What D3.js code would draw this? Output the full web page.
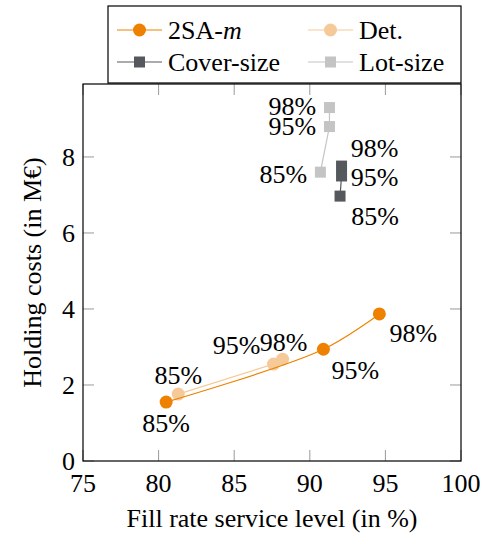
<!DOCTYPE html>
<meta charset="utf-8">
<style>
body { margin: 0; background: white; }
</style>
<body>
<script src="https://cdn.jsdelivr.net/npm/d3@7/dist/d3.min.js"></script>
<script>
// service levels (point labels)
var levels = ['85%', '95%', '98%']

// series values
var twoSAx = [80.5, 90.9, 94.6]
var twoSAy = [1.55, 2.94, 3.87]
var detX = [81.3, 87.6, 88.2]
var detY = [1.76, 2.55, 2.68]
var coverX = [92.0, 92.1, 92.1]
var coverY = [6.97, 7.5, 7.76]
var lotX = [90.7, 91.3, 91.3]
var lotY = [7.6, 8.8, 9.3]

var xTicks = [75, 80, 85, 90, 95, 100]
var yTicks = [0, 2, 4, 6, 8]

var width = 491
var height = 541
var margin = { left: 83, right: 30, top: 84, bottom: 80 }
var fs = 26

var x = d3.scaleLinear().domain([75, 100]).range([margin.left, width - margin.right])
var y = d3.scaleLinear().domain([0, 9.92]).range([height - margin.bottom, margin.top])

var svg = d3.select('body').append('svg')
    .attr('width', width)
    .attr('height', height)
    .style('font-family', '"Liberation Serif", "Times New Roman", serif')

var x0 = x.range()[0], x1 = x.range()[1]
var y0 = y.range()[0], y1 = y.range()[1]
var tickLen = 11

// ticks (inside, on all four sides)
var ticks = svg.append('g').attr('stroke', '#9a9a9a').attr('stroke-width', 1)
xTicks.forEach(function (t) {
    ticks.append('line').attr('x1', x(t)).attr('x2', x(t)).attr('y1', y0).attr('y2', y0 - tickLen)
    ticks.append('line').attr('x1', x(t)).attr('x2', x(t)).attr('y1', y1).attr('y2', y1 + tickLen)
})
yTicks.forEach(function (t) {
    ticks.append('line').attr('x1', x0).attr('x2', x0 + tickLen).attr('y1', y(t)).attr('y2', y(t))
    ticks.append('line').attr('x1', x1).attr('x2', x1 - tickLen).attr('y1', y(t)).attr('y2', y(t))
})

// frame
svg.append('rect')
    .attr('x', x0).attr('y', y1)
    .attr('width', x1 - x0).attr('height', y0 - y1)
    .attr('fill', 'none').attr('stroke', 'black').attr('stroke-width', 1.2)

// tick labels
svg.append('g').selectAll('text').data(xTicks).enter().append('text')
    .attr('x', function (d) { return x(d) })
    .attr('y', y0 + 31)
    .attr('text-anchor', 'middle')
    .attr('font-size', fs)
    .text(function (d) { return d })

svg.append('g').selectAll('text').data(yTicks).enter().append('text')
    .attr('x', x0 - 8)
    .attr('y', function (d) { return y(d) + 9 })
    .attr('text-anchor', 'end')
    .attr('font-size', fs)
    .text(function (d) { return d })

// axis titles
svg.append('text')
    .attr('x', (x0 + x1) / 2)
    .attr('y', 527)
    .attr('text-anchor', 'middle')
    .attr('font-size', fs)
    .text('Fill rate service level (in %)')

svg.append('text')
    .attr('transform', 'translate(41,' + (y0 + y1) / 2 + ') rotate(-90)')
    .attr('text-anchor', 'middle')
    .attr('font-size', fs)
    .text('Holding costs (in M€)')

var series = [
    { name: 'Det.', xs: detX, ys: detY, color: '#f6ca98', marker: 'circle', curve: d3.curveLinear,
        labels: [[0, -19], [-37, -19], [1, -17]] },
    { name: '2SA-m', xs: twoSAx, ys: twoSAy, color: '#ee8100', marker: 'circle', curve: d3.curveCatmullRom,
        labels: [[0, 21], [32, 21], [34, 19]] },
    { name: 'Lot-size', xs: lotX, ys: lotY, color: '#c4c4c4', marker: 'square', curve: d3.curveLinear,
        labels: [[-37, 2], [-37, -1], [-37, -2]] },
    { name: 'Cover-size', xs: coverX, ys: coverY, color: '#55595e', marker: 'square', curve: d3.curveLinear,
        labels: [[35, 20], [33, 1], [33, -18]] }
]

var line = d3.line()
    .x(function (d) { return x(d[0]) })
    .y(function (d) { return y(d[1]) })

function drawMarker(g, type, cx, cy, color) {
    if (type === 'circle') {
        g.append('circle').attr('cx', cx).attr('cy', cy).attr('r', 6.5).attr('fill', color)
    } else {
        g.append('rect').attr('x', cx - 5.5).attr('y', cy - 5.5).attr('width', 11).attr('height', 11)
            .attr('fill', color)
    }
}

series.forEach(function (s) {
    var pts = s.xs.map(function (v, i) { return [v, s.ys[i]] })
    var g = svg.append('g')
    g.append('path')
        .attr('d', line.curve(s.curve)(pts))
        .attr('fill', 'none')
        .attr('stroke', s.color)
        .attr('stroke-width', 1.2)
    pts.forEach(function (p) { drawMarker(g, s.marker, x(p[0]), y(p[1]), s.color) })
    pts.forEach(function (p, i) {
        g.append('text')
            .attr('x', x(p[0]) + s.labels[i][0])
            .attr('y', y(p[1]) + s.labels[i][1] + 9)
            .attr('text-anchor', 'middle')
            .attr('font-size', fs)
            .text(levels[i])
    })
})

// legend
var legend = svg.append('g')
legend.append('rect')
    .attr('x', 108).attr('y', 6)
    .attr('width', 353).attr('height', 77)
    .attr('fill', 'white').attr('stroke', 'black').attr('stroke-width', 1.2)

var legendItems = [
    { s: series[1], lx: 117, ly: 30 },
    { s: series[0], lx: 308, ly: 30 },
    { s: series[3], lx: 117, ly: 62 },
    { s: series[2], lx: 308, ly: 62 }
]
legendItems.forEach(function (d) {
    legend.append('line')
        .attr('x1', d.lx).attr('x2', d.lx + 45)
        .attr('y1', d.ly).attr('y2', d.ly)
        .attr('stroke', d.s.color).attr('stroke-width', 1.2)
    drawMarker(legend, d.s.marker, d.lx + 22.5, d.ly, d.s.color)
    var t = legend.append('text')
        .attr('x', d.lx + 51)
        .attr('y', d.ly + 9)
        .attr('font-size', fs)
    if (d.s.name === '2SA-m') {
        t.append('tspan').text('2SA-')
        t.append('tspan').attr('font-style', 'italic').text('m')
    } else {
        t.text(d.s.name)
    }
})
</script>
</body>
